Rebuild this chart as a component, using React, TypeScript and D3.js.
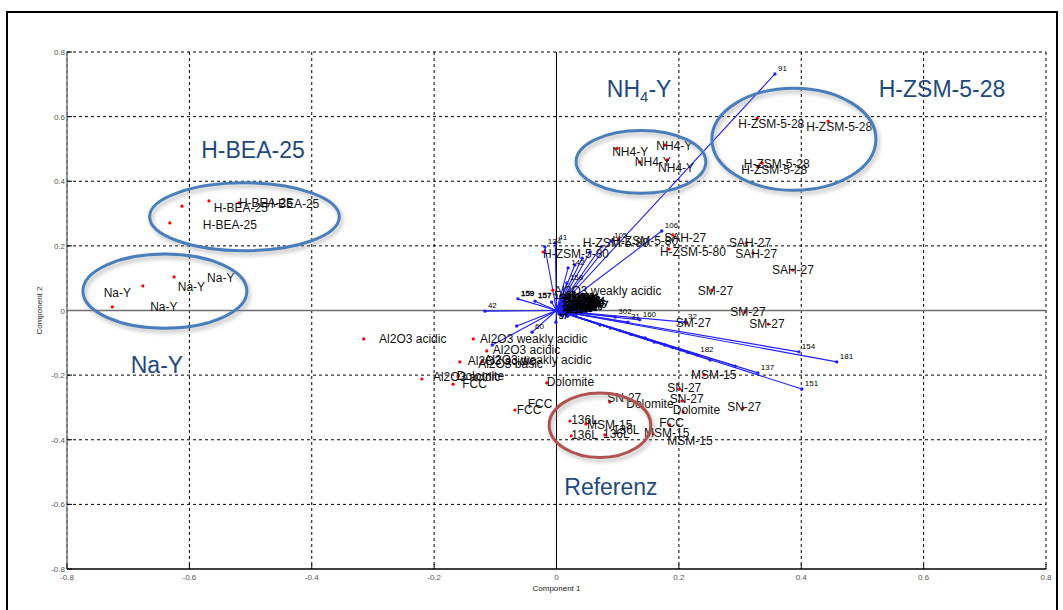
import React from "react";
import * as d3 from "d3";

// ---------- data ----------
const axisTicks = [-0.8, -0.6, -0.4, -0.2, 0, 0.2, 0.4, 0.6, 0.8];
const xTitle = "Component 1";
const yTitle = "Component 2";

// observation score points (red dots)
const scoreX = [-0.612, -0.568, -0.632, -0.519, -0.726, -0.676, -0.625, -0.315, -0.136, -0.114, -0.158, -0.122, -0.22, -0.161, -0.169, -0.016, -0.068, 0.022, 0.024, 0.079, 0.048, 0.087, 0.158, 0.185, 0.2, 0.205, 0.207, 0.305, 0.241, 0.19, 0.184, 0.31, 0.321, 0.386, 0.254, 0.308, 0.346, 0.213, -0.022, 0.101, -0.006, 0.099, 0.136, 0.177, 0.181, 0.328, 0.444, 0.336, 0.329];
const scoreY = [0.323, 0.339, 0.271, 0.333, 0.011, 0.076, 0.104, -0.088, -0.088, -0.125, -0.159, -0.159, -0.212, -0.203, -0.228, -0.224, -0.308, -0.342, -0.388, -0.385, -0.351, -0.283, -0.382, -0.354, -0.243, -0.28, -0.314, -0.302, -0.199, 0.234, 0.19, 0.209, 0.178, 0.125, 0.063, -0.005, -0.042, -0.039, 0.181, 0.221, 0.063, 0.502, 0.459, 0.512, 0.466, 0.595, 0.586, 0.456, 0.444];

// observation labels (text anchored at left/middle)
const obsText = ["H-BEA-25", "H-BEA-25", "H-BEA-25", "H-BEA-25", "Na-Y", "Na-Y", "Na-Y", "Na-Y", "Al2O3 acidic", "Al2O3 weakly acidic", "Al2O3 acidic", "Al2O3 acidic", "Al2O3 weakly acidic", "Al2O3 basic", "Al2O3 acidic", "Dolomite", "FCC", "Dolomite", "FCC", "FCC", "136L", "136L", "136L", "136L", "MSM-15", "SN-27", "Dolomite", "MSM-15", "FCC", "MSM-15", "SN-27", "SN-27", "Dolomite", "SN-27", "MSM-15", "SAH-27", "H-ZSM-5-80", "SAH-27", "SAH-27", "SAH-27", "SM-27", "SM-27", "SM-27", "SM-27", "H-ZSM-5-80", "H-ZSM-5-80", "H-ZSM-5-80", "Al2O3 weakly acidic", "NH4-Y", "NH4-Y", "NH4-Y", "NH4-Y", "H-ZSM-5-28", "H-ZSM-5-28", "H-ZSM-5-28", "H-ZSM-5-28"];
const obsTextX = [-0.56, -0.578, -0.519, -0.476, -0.74, -0.619, -0.571, -0.664, -0.29, -0.125, -0.104, -0.145, -0.118, -0.128, -0.202, -0.163, -0.154, -0.016, -0.065, -0.047, 0.024, 0.024, 0.076, 0.092, 0.05, 0.083, 0.114, 0.143, 0.168, 0.181, 0.181, 0.185, 0.19, 0.279, 0.22, 0.176, 0.169, 0.282, 0.292, 0.352, 0.231, 0.284, 0.315, 0.195, -0.022, 0.043, 0.091, -0.004, 0.091, 0.163, 0.128, 0.166, 0.297, 0.408, 0.306, 0.302];
const obsTextY = [0.317, 0.265, 0.333, 0.33, 0.054, 0.073, 0.101, 0.011, -0.088, -0.088, -0.122, -0.156, -0.153, -0.165, -0.206, -0.203, -0.228, -0.221, -0.308, -0.289, -0.339, -0.385, -0.382, -0.37, -0.354, -0.271, -0.289, -0.379, -0.348, -0.404, -0.24, -0.274, -0.308, -0.299, -0.199, 0.224, 0.181, 0.209, 0.175, 0.125, 0.06, -0.005, -0.042, -0.039, 0.175, 0.209, 0.215, 0.06, 0.49, 0.509, 0.459, 0.441, 0.577, 0.567, 0.453, 0.434];

// variable loadings (blue vectors)
const loadLabel = ["91", "106", "105", "", "", "", "", "41", "124", "142", "158", "159", "157", "42", "60", "", "", "57", "154", "181", "151", "137", "182", "32", "302", "160", "31", "", "", "", "", "", "", "", "", "", "", "", "", "12", "88", "98", "298", "14", "2", "75", "150", "33", "17", "162", "19", "58", "121", "8", "94", "73", "27", "199", "45", "76", "5", "61", "38", "110", "113", "118", "126", "131", "135", "140", "144", "147", "153", "166", "170", "174", "178", "185", "188", "193", "196", "203", "207", "211", "215", "218", "222", "226", "230"];
const loadX = [0.357, 0.172, 0.089, 0.073, 0.055, 0.042, 0.03, -0.002, -0.019, 0.019, 0.017, -0.063, -0.035, -0.117, -0.04, -0.105, -0.065, -0.001, 0.396, 0.458, 0.401, 0.329, 0.23, 0.21, 0.096, 0.136, 0.117, 0.071, 0.104, 0.145, 0.177, 0.202, 0.251, 0.292, 0.16, 0.19, 0.122, 0.088, 0.215, 0.02, 0.045, 0.052, 0.04, 0.01, 0.006, 0.03, 0.034, 0.012, 0.024, -0.008, 0.028, 0.016, 0.004, 0.038, 0.022, 0.046, 0.03, 0.014, 0.008, 0.036, 0.02, 0.01, 0.044, 0.006, 0.014, 0.022, 0.03, 0.038, 0.046, 0.054, 0.012, 0.02, 0.028, 0.036, 0.044, 0.052, 0.004, 0.016, 0.026, 0.034, 0.042, 0.05, 0.058, 0.01, 0.018, 0.032, 0.04, 0.048];
const loadY = [0.732, 0.246, 0.215, 0.197, 0.181, 0.162, 0.141, 0.209, 0.197, 0.132, 0.085, 0.036, 0.029, -0.002, -0.067, -0.107, -0.048, -0.036, -0.128, -0.159, -0.243, -0.193, -0.138, -0.036, -0.02, -0.029, -0.036, -0.045, -0.063, -0.085, -0.107, -0.122, -0.153, -0.172, -0.098, -0.115, -0.074, -0.054, -0.13, 0.012, 0.004, 0.008, -0.01, 0.03, 0.018, 0.022, -0.004, 0.036, 0.01, 0.026, 0.028, -0.012, 0.006, 0.016, -0.006, 0.002, 0.012, 0.02, -0.014, -0.002, 0.034, 0.004, 0.018, 0.024, 0.02, 0.016, 0.012, 0.008, 0.004, 0.0, 0.0, -0.004, -0.008, 0.024, 0.02, 0.016, -0.01, 0.006, 0.028, 0.03, 0.026, 0.01, 0.006, -0.016, -0.018, -0.014, 0.014, -0.008];

// group annotations
const groupTitles = ["H-BEA-25", "Na-Y", "NH4-Y", "H-ZSM-5-28", "Referenz"];
const groupTitleX = [-0.496, -0.653, 0.135, 0.63, 0.089];
const groupTitleY = [0.472, -0.193, 0.661, 0.661, -0.571];
const ellipseCX = [-0.51, -0.64, 0.138, 0.388, 0.071];
const ellipseCY = [0.29, 0.06, 0.46, 0.53, -0.355];
const ellipseRX = [0.155, 0.134, 0.106, 0.134, 0.083];
const ellipseRY = [0.105, 0.115, 0.097, 0.158, 0.1];
const ellipseKind = ["blue", "blue", "blue", "blue", "red"];

// ---------- chart ----------
const W = 1063;
const H = 610;
const FONT = "'Liberation Sans', Arial, sans-serif";

export default function App() {
  const x = d3.scaleLinear().domain([-0.8, 0.8]).range([67, 1046]);
  const y = d3.scaleLinear().domain([-0.8, 0.8]).range([569, 52]);
  const fmt = (v: number) => String(Math.round(v * 10) / 10);
  const x0 = x(0);
  const y0 = y(0);
  const pxPerUnit = x(1) - x(0);
  const pyPerUnit = y(0) - y(1);
  const nearOrigin = (i: number) => Math.abs(loadX[i]) < 0.07 && Math.abs(loadY[i]) < 0.045;

  return (
    <svg
      width={W}
      height={H}
      style={{ position: "absolute", left: 0, top: 0, background: "#fff" }}
      fontFamily={FONT}
    >
      <defs>
        <filter id="shadow" x="-20%" y="-20%" width="140%" height="150%">
          <feGaussianBlur stdDeviation="2" />
        </filter>
      </defs>
      <rect x={0} y={0} width={W} height={H} fill="#fff" />
      {/* outer frame */}
      <rect x={7} y={12} width={1050} height={640} fill="none" stroke="#000" strokeWidth={2} />

      {/* grid */}
      {axisTicks.map((t, i) =>
        t !== 0 ? (
          <line key={"gv" + i} x1={x(t)} x2={x(t)} y1={y(0.8)} y2={y(-0.8)} stroke="#000" strokeWidth={1} strokeDasharray="3,3" />
        ) : null
      )}
      {axisTicks.map((t, i) =>
        t !== 0 && t !== -0.8 ? (
          <line key={"gh" + i} x1={x(-0.8)} x2={x(0.8)} y1={y(t)} y2={y(t)} stroke="#000" strokeWidth={1} strokeDasharray="3,3" />
        ) : null
      )}
      {/* frame axes */}
      <line x1={x(-0.8)} x2={x(-0.8)} y1={y(0.8)} y2={y(-0.8)} stroke="#777" strokeWidth={1.5} />
      <line x1={x(-0.8)} x2={x(0.8)} y1={y(-0.8)} y2={y(-0.8)} stroke="#000" strokeWidth={1.5} />
      {axisTicks.map((t, i) => (
        <g key={"tk" + i}>
          <line x1={x(t)} x2={x(t)} y1={y(-0.8)} y2={y(-0.8) - 5} stroke="#000" />
          <line x1={x(-0.8)} x2={x(-0.8) + 5} y1={y(t)} y2={y(t)} stroke="#000" />
          <text x={x(t)} y={y(-0.8) + 11} fontSize={8} fill="#555" textAnchor="middle">
            {fmt(t)}
          </text>
          <text x={x(-0.8) - 2} y={y(t) + 3} fontSize={8} fill="#555" textAnchor="end">
            {fmt(t)}
          </text>
        </g>
      ))}
      <text x={x(0)} y={591} fontSize={8} fill="#222" textAnchor="middle">
        {xTitle}
      </text>
      <text transform={`translate(42,${y(0)}) rotate(-90)`} fontSize={8} fill="#222" textAnchor="middle">
        {yTitle}
      </text>

      {/* zero lines */}
      <line x1={x(-0.8)} x2={x(0.8)} y1={y0} y2={y0} stroke="#6e6e6e" strokeWidth={1.5} />
      <line x1={x0} x2={x0} y1={y(0.8)} y2={y(-0.8)} stroke="#000" strokeWidth={1} />

      {/* loading vectors */}
      {loadX.map((lx, i) => (
        <g key={"ld" + i}>
          <line x1={x0} y1={y0} x2={x(lx)} y2={y(loadY[i])} stroke="#1f1fff" strokeWidth={1.1} />
          <circle cx={x(lx)} cy={y(loadY[i])} r={1.7} fill="#1f1fff" />
        </g>
      ))}
      {loadX.map((lx, i) =>
        loadLabel[i] ? (
          <text
            key={"ll" + i}
            x={x(lx) + 3}
            y={y(loadY[i]) - 3}
            fontSize={8}
            fill="#000"
            stroke={nearOrigin(i) ? "#000" : "none"}
            strokeWidth={0.4}
          >
            {loadLabel[i]}
          </text>
        ) : null
      )}

      {/* score points */}
      {scoreX.map((sx, i) => (
        <circle key={"sp" + i} cx={x(sx)} cy={y(scoreY[i])} r={1.6} fill="#ff0000" />
      ))}
      {obsText.map((t, i) => (
        <text key={"ot" + i} x={x(obsTextX[i])} y={y(obsTextY[i])} dy="0.35em" fontSize={12} fill="#111">
          {t}
        </text>
      ))}

      {/* ellipses */}
      {ellipseCX.map((cx, i) => {
        const col = ellipseKind[i] === "blue" ? "#4a7ebb" : "#b0524e";
        const rx = ellipseRX[i] * pxPerUnit;
        const ry = ellipseRY[i] * pyPerUnit;
        return (
          <g key={"el" + i}>
            <ellipse cx={x(cx) + 2} cy={y(ellipseCY[i]) + 3} rx={rx} ry={ry} fill="none" stroke="#8a8a8a" strokeOpacity={0.6} strokeWidth={3} filter="url(#shadow)" />
            <ellipse cx={x(cx)} cy={y(ellipseCY[i])} rx={rx} ry={ry} fill="none" stroke={col} strokeWidth={3} />
          </g>
        );
      })}

      {/* group titles */}
      {groupTitles.map((t, i) => {
        const m = t.match(/^NH4(.*)$/);
        return (
          <text key={"gt" + i} x={x(groupTitleX[i])} y={y(groupTitleY[i])} fontSize={23} fill="#1f497d" textAnchor="middle">
            {m ? (
              <>
                NH<tspan fontSize={15} dy={5}>4</tspan>
                <tspan dy={-5}>{m[1]}</tspan>
              </>
            ) : (
              t
            )}
          </text>
        );
      })}
    </svg>
  );
}
